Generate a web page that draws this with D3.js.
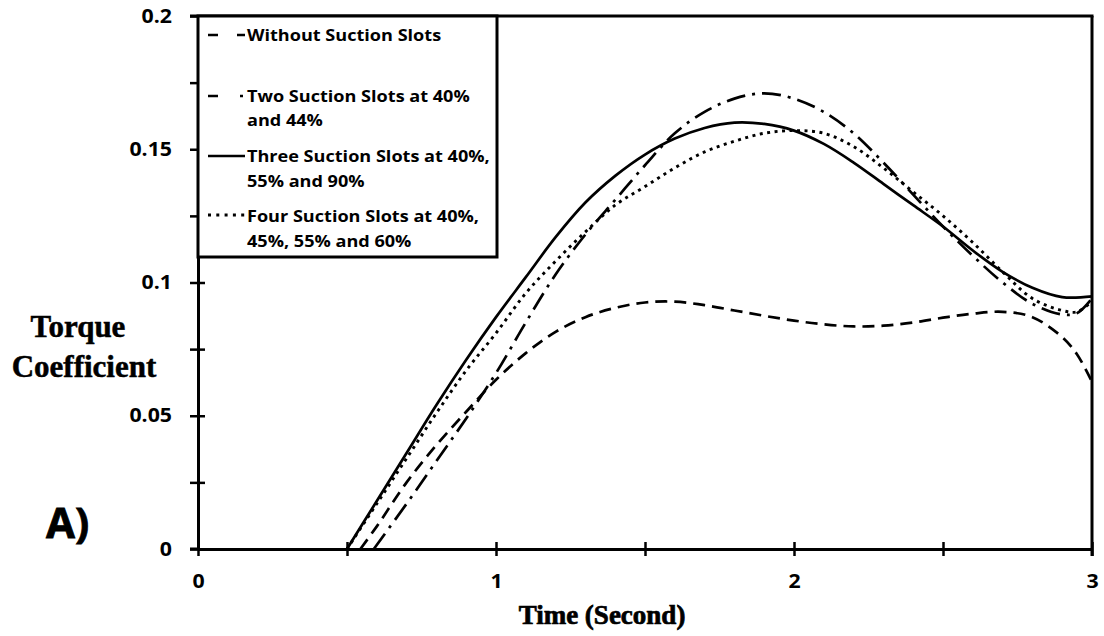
<!DOCTYPE html>
<html>
<head>
<meta charset="utf-8">
<script src="https://cdn.jsdelivr.net/npm/d3@7"></script>
<style>
  html, body { margin: 0; padding: 0; background: #fff; }
  svg { display: block; }
  .sans { font-family: "Open Sans", "Liberation Sans", sans-serif; font-weight: 700; }
  .serif { font-family: "Liberation Serif", "Times New Roman", serif; font-weight: 700; }
</style>
</head>
<body>
<svg id="chart" width="1104" height="636"></svg>
<script>
// ---------- data ----------
const withoutT = [0.545, 0.6, 0.7, 0.8, 0.9, 1.0, 1.1, 1.2, 1.3, 1.4, 1.5, 1.6, 1.7, 1.8, 1.9, 2.0, 2.1, 2.2, 2.3, 2.4, 2.5, 2.6, 2.7, 2.8, 2.9, 2.95, 3.0];
const withoutV = [0, 0.0085, 0.025, 0.039, 0.0515, 0.0635, 0.0735, 0.0815, 0.087, 0.0905, 0.0925, 0.0928, 0.0915, 0.0895, 0.0875, 0.0857, 0.0843, 0.0835, 0.0838, 0.085, 0.0868, 0.0883, 0.089, 0.087, 0.0795, 0.073, 0.0627];

const twoT = [0.59, 0.7, 0.8, 0.9, 1.0, 1.1, 1.2, 1.3, 1.4, 1.5, 1.6, 1.7, 1.8, 1.9, 2.0, 2.1, 2.2, 2.3, 2.4, 2.5, 2.6, 2.7, 2.8, 2.9, 2.95, 3.0];
const twoV = [0, 0.017, 0.033, 0.049, 0.066, 0.085, 0.103, 0.118, 0.131, 0.144, 0.156, 0.164, 0.169, 0.171, 0.169, 0.164, 0.156, 0.145, 0.133, 0.121, 0.110, 0.100, 0.092, 0.088, 0.0885, 0.094];

const threeT = [0.5, 0.6, 0.7, 0.8, 0.9, 1.0, 1.1, 1.2, 1.3, 1.4, 1.5, 1.6, 1.7, 1.8, 1.9, 2.0, 2.1, 2.2, 2.3, 2.4, 2.5, 2.6, 2.7, 2.8, 2.9, 3.0];
const threeV = [0, 0.018, 0.036, 0.054, 0.071, 0.087, 0.102, 0.117, 0.130, 0.140, 0.148, 0.154, 0.158, 0.160, 0.1595, 0.157, 0.152, 0.145, 0.137, 0.129, 0.121, 0.112, 0.104, 0.098, 0.0945, 0.0948];

const fourT = [0.5, 0.6, 0.7, 0.8, 0.9, 1.0, 1.1, 1.2, 1.3, 1.4, 1.5, 1.6, 1.7, 1.8, 1.9, 2.0, 2.1, 2.2, 2.3, 2.4, 2.5, 2.6, 2.7, 2.8, 2.9, 2.95, 3.0];
const fourV = [0, 0.017, 0.034, 0.051, 0.067, 0.081, 0.096, 0.108, 0.119, 0.129, 0.136, 0.143, 0.149, 0.153, 0.156, 0.157, 0.156, 0.151, 0.143, 0.134, 0.125, 0.115, 0.104, 0.094, 0.0895, 0.089, 0.093];

const seriesNames = ["Without Suction Slots", "Two Suction Slots at 40%|and 44%", "Three Suction Slots at 40%,|55% and 90%", "Four Suction Slots at 40%,|45%, 55% and 60%"];
const xTickValues = [0, 0.5, 1, 1.5, 2, 2.5, 3];
const xTickLabels = ["0", "", "1", "", "2", "", "3"];
const yTickValues = [0, 0.025, 0.05, 0.075, 0.1, 0.125, 0.15, 0.175, 0.2];
const yTickLabels = ["0", "", "0.05", "", "0.1", "", "0.15", "", "0.2"];
const yTitle = ["Torque", "Coefficient"];
const xTitle = "Time (Second)";
const panelLabel = "A)";

// ---------- layout ----------
const svg = d3.select("#chart");
const x = d3.scaleLinear().domain([0, 3]).range([198, 1092]);
const y = d3.scaleLinear().domain([0, 0.2]).range([549, 16]);

const styles = [
  { dash: "12,7", w: 2.7 },
  { dash: "19,7,3,7", w: 2.7 },
  { dash: null, w: 2.7 },
  { dash: "3,4.5", w: 2.9 }
];
const legendDash = ["10,19", "10,22,3,30", null, "3,5.3"];

function stretch(sel, f) {
  sel.each(function () {
    const len = this.getComputedTextLength();
    d3.select(this).attr("textLength", len * f).attr("lengthAdjust", "spacingAndGlyphs");
  });
}

// ---------- curves ----------
const data = [
  withoutT.map((t, i) => [t, withoutV[i]]),
  twoT.map((t, i) => [t, twoV[i]]),
  threeT.map((t, i) => [t, threeV[i]]),
  fourT.map((t, i) => [t, fourV[i]])
];
const line = d3.line().x(d => x(d[0])).y(d => y(d[1])).curve(d3.curveCatmullRom.alpha(0.5));

svg.append("g").selectAll("path").data(data).join("path")
  .attr("d", line)
  .attr("fill", "none")
  .attr("stroke", "#000")
  .attr("stroke-width", (d, i) => styles[i].w)
  .attr("stroke-dasharray", (d, i) => styles[i].dash);

// ---------- axes ----------
const yAxis = d3.axisLeft(y).tickValues(yTickValues).tickSize(8).tickSizeOuter(0).tickPadding(18)
  .tickFormat((d, i) => yTickLabels[i]);
const gy = svg.append("g").attr("transform", `translate(${x(0)},0)`).call(yAxis);
gy.select(".domain").attr("stroke-width", 3);
gy.selectAll(".tick line").attr("x1", 7).attr("x2", -8).attr("stroke-width", 2.5);
gy.selectAll(".tick text").attr("class", "sans").attr("font-size", 19).attr("fill", "#000");
stretch(gy.selectAll(".tick text"), 1.12);

const xAxis = d3.axisBottom(x).tickValues(xTickValues)
  .tickSize(7).tickSizeOuter(0).tickFormat((d, i) => xTickLabels[i]);
const gx = svg.append("g").attr("transform", `translate(0,${y(0)})`).call(xAxis);
gx.select(".domain").attr("stroke-width", 3);
gx.selectAll(".tick line").attr("y1", -7).attr("y2", 7).attr("stroke-width", 2.5);
gx.selectAll(".tick text").attr("class", "sans").attr("font-size", 19).attr("fill", "#000")
  .attr("y", 39).attr("dy", 0);
stretch(gx.selectAll(".tick text"), 1.12);
svg.append("line").attr("x1", x(0) - 8).attr("x2", x(0)).attr("y1", y(0)).attr("y2", y(0))
  .attr("stroke", "#000").attr("stroke-width", 3);

// frame top & right
svg.append("line").attr("x1", x(0) - 8).attr("x2", x(3) + 1.5).attr("y1", y(0.2)).attr("y2", y(0.2))
  .attr("stroke", "#000").attr("stroke-width", 3);
svg.append("line").attr("x1", x(3)).attr("x2", x(3)).attr("y1", y(0.2)).attr("y2", y(0) + 7)
  .attr("stroke", "#000").attr("stroke-width", 3);

// ---------- legend ----------
const lg = svg.append("g");
lg.append("rect").attr("x", x(0)).attr("y", y(0.2)).attr("width", 299).attr("height", 241)
  .attr("fill", "#fff").attr("stroke", "#000").attr("stroke-width", 3);
const sampleY = [35, 96, 156, 215];
const textY = [[41], [102, 126], [162, 187], [222, 247]];
seriesNames.forEach((name, i) => {
  lg.append("line").attr("x1", 208).attr("x2", 245).attr("y1", sampleY[i]).attr("y2", sampleY[i])
    .attr("stroke", "#000").attr("stroke-width", styles[i].w)
    .attr("stroke-dasharray", legendDash[i]);
  name.split("|").forEach((part, j) => {
    const t = lg.append("text").attr("class", "sans").attr("x", 247).attr("y", textY[i][j])
      .attr("font-size", 16).attr("fill", "#000").text(part);
    stretch(t, 1.13);
  });
});

// ---------- titles ----------
const yt = svg.append("g").attr("class", "serif").attr("font-size", 31).attr("text-anchor", "middle")
  .attr("stroke", "#000").attr("stroke-width", 0.5);
yt.append("text").attr("x", 78).attr("y", 337).text(yTitle[0]);
yt.append("text").attr("x", 84).attr("y", 377).text(yTitle[1]);

svg.append("text").attr("class", "serif").attr("font-size", 27).attr("text-anchor", "middle")
  .attr("x", 602).attr("y", 624).attr("stroke", "#000").attr("stroke-width", 0.7).text(xTitle);

svg.append("text").attr("class", "sans").attr("font-size", 42).attr("x", 46).attr("y", 538)
  .attr("stroke", "#000").attr("stroke-width", 0.8).text(panelLabel);
</script>
</body>
</html>
